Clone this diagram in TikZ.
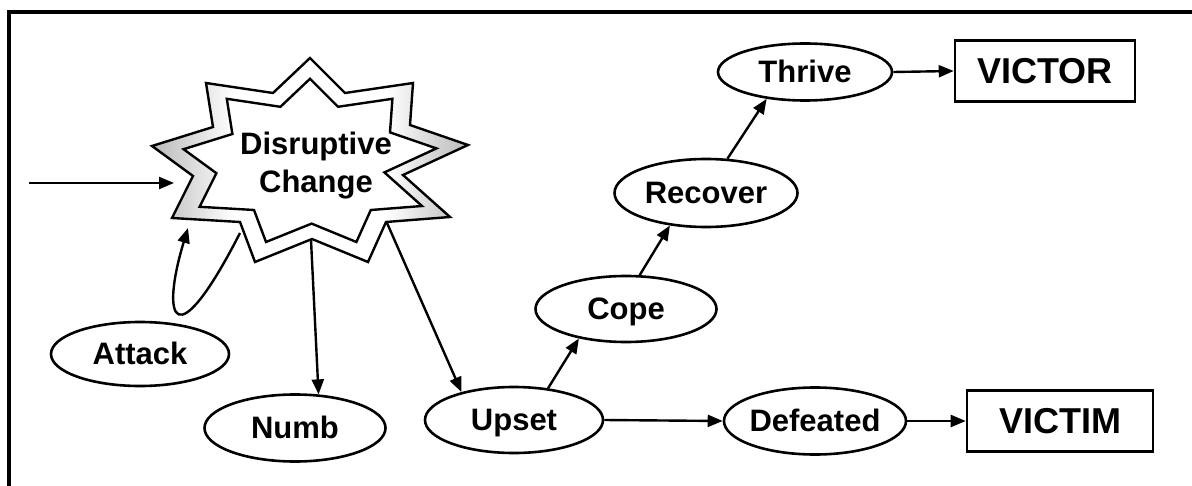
\documentclass[tikz,border=0pt]{standalone}
\usepackage{fontspec}
\setmainfont{Liberation Sans}
\usetikzlibrary{shapes.geometric,arrows.meta}
\pgfdeclarehorizontalshading{bandshade}{100bp}{color(0bp)=(gray!55); color(25bp)=(gray!55); color(38bp)=(white); color(62bp)=(white); color(75bp)=(gray!55); color(100bp)=(gray!55)}
\newcommand\mylbl[1]{\makebox[0pt]{\raisebox{-0.5\fontcharht\font`A}[0pt][0pt]{#1}}}
\begin{document}
\begin{tikzpicture}[x=0.5pt,y=-0.5pt,
  lbl/.style={font=\fontsize{15.5}{19}\selectfont\bfseries},
  oval/.style={ellipse, draw, line width=1.3pt, inner sep=0pt, fill=white, lbl},
  endbox/.style={rectangle, draw, line width=1.3pt, inner sep=0pt, fill=white,
    font=\fontsize{18}{21}\selectfont\bfseries},
  arr/.style={line width=1.2pt, -{Triangle[length=7.5pt,width=6pt]}},
  starpts/.style={insert path={(310,58) -- (345,93) -- (413,83) -- (410,125) -- (468,145)
    -- (403,175) -- (450,217) -- (386,222) -- (368,262) -- (312,239) -- (255,262)
    -- (240,222) -- (172,218) -- (193,176) -- (152,146) -- (213,127) -- (206,83)
    -- (273,93) -- cycle}},
  starline/.style={line width=1.2pt, line join=miter}]
\useasboundingbox (0,0) rectangle (1192,486);
% frame (top and left edges)
\coordinate (fTR) at (1192,12);
\coordinate (fTL) at (9,12);
\coordinate (fBL) at (9,486);
\draw[line width=2pt] (fTR) -- (fTL) -- (fBL);
% star
\path[starline, draw, shading=bandshade, starpts];
\begin{scope}[shift={(310,162)}, scale=0.8, shift={(-310,-162)}]
  \path[starline, draw, fill=white, starpts];
\end{scope}
\node[lbl, align=center, inner sep=0pt] (dc) at (316,166) {Disruptive\\Change};
% star connector points
\coordinate (in) at (29,183);
\coordinate (sL) at (174,183);
\coordinate (sLoopA) at (240,233);
\coordinate (sLoopB) at (188,228);
\coordinate (sB) at (311,240);
\coordinate (sBR) at (387,223);
% nodes
\node[oval, minimum width=89pt, minimum height=32pt] (attack) at (140,354) {\mylbl{Attack}};
\node[oval, minimum width=90.5pt, minimum height=33.5pt] (numb) at (295,428) {\mylbl{Numb}};
\node[oval, minimum width=89pt, minimum height=33pt] (upset) at (514,420) {\mylbl{Upset}};
\node[oval, minimum width=90.5pt, minimum height=33pt] (cope) at (626,309) {\mylbl{Cope}};
\node[oval, minimum width=91.5pt, minimum height=34pt] (recover) at (706,193) {\mylbl{Recover}};
\node[oval, minimum width=87pt, minimum height=28.5pt] (thrive) at (805,72) {\mylbl{Thrive}};
\node[oval, minimum width=91pt, minimum height=33.5pt] (defeated) at (815,421) {\mylbl{Defeated}};
\node[endbox, minimum width=90pt, minimum height=30.5pt] (victor) at (1045,71) {\mylbl{VICTOR}};
\node[endbox, minimum width=93pt, minimum height=30.5pt] (victim) at (1060,421) {\mylbl{VICTIM}};
% connectors
\draw[arr] (in) -- (sL);
\draw[arr] (sLoopA) .. controls (175,360) and (160,320) .. (sLoopB);
\draw[arr] (sB) -- (numb.55);
\draw[arr] (sBR) -- (upset.152);
\draw[arr] (upset.43) -- (cope.212);
\draw[arr] (cope.68) -- (recover.222);
\draw[arr] (recover.58) -- (thrive.215);
\draw[arr] (thrive.east) -- (victor.west);
\draw[arr] (upset.east) -- (defeated.west);
\draw[arr] (defeated.east) -- (victim.west);
\end{tikzpicture}
\end{document}
